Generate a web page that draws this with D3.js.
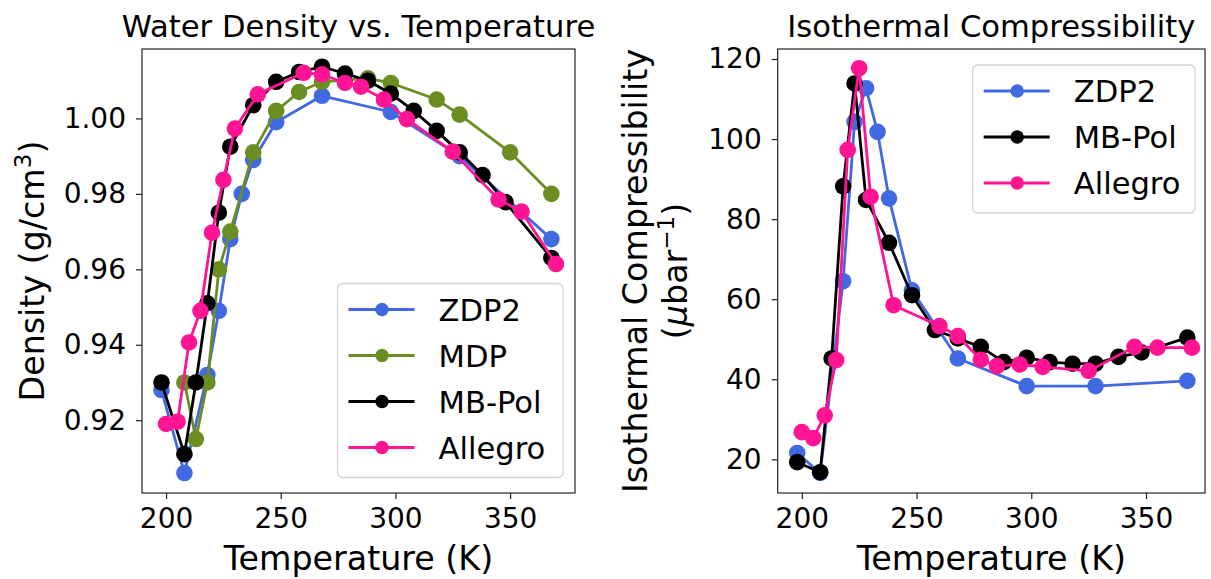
<!DOCTYPE html>
<html>
<head>
<meta charset="utf-8">
<script src="https://cdn.jsdelivr.net/npm/d3@7"></script>
<style>
  body { margin: 0; background: #fff; }
  svg { display: block; font-family: "DejaVu Sans", sans-serif; }
</style>
</head>
<body>
<svg id="chart" width="1211" height="579"></svg>
<script>
// values

// density (g/cm^3)
const zdp2DensT   = [198, 208, 218, 223, 228, 233, 238, 248, 268, 298, 328, 368];
const zdp2Dens    = [0.928, 0.906, 0.932, 0.949, 0.968, 0.980, 0.989, 0.999, 1.006, 1.0017, 0.990, 0.968];
const mdpDensT    = [208, 213, 218, 223, 228, 238, 248, 258, 268, 288, 298, 318, 328, 350, 368];
const mdpDens     = [0.930, 0.915, 0.930, 0.960, 0.970, 0.991, 1.002, 1.007, 1.0097, 1.0106, 1.0094, 1.005, 1.001, 0.991, 0.980];
const mbpolDensT  = [198, 208, 213, 218, 223, 228, 238, 248, 258, 268, 278, 288, 298, 308, 318, 328, 338, 348, 368];
const mbpolDens   = [0.930, 0.911, 0.930, 0.951, 0.975, 0.9925, 1.0035, 1.0097, 1.0123, 1.0137, 1.0119, 1.010, 1.0066, 1.002, 0.9967, 0.991, 0.985, 0.9778, 0.963];
const allegroDensT = [200, 205, 210, 215, 220, 225, 230, 240, 260, 268, 278, 285, 295, 305, 325, 345, 355, 370];
const allegroDens  = [0.919, 0.9196, 0.9406, 0.949, 0.9697, 0.9837, 0.9973, 1.0064, 1.0121, 1.0117, 1.0094, 1.0084, 1.005, 0.9998, 0.9912, 0.9785, 0.9753, 0.9614];

// isothermal compressibility (1/Mbar)
const zdp2CompT    = [198, 208, 218, 223, 228, 233, 238, 248, 268, 298, 328, 368];
const zdp2Comp     = [21.6, 16.6, 64.5, 104.3, 112.7, 101.8, 85.2, 62.2, 45.2, 38.3, 38.3, 39.6];
const mbpolCompT   = [198, 208, 213, 218, 223, 228, 238, 248, 258, 268, 278, 288, 298, 308, 318, 328, 338, 348, 368];
const mbpolComp    = [19.3, 16.8, 45.2, 88.2, 113.9, 84.8, 74.1, 61.0, 52.3, 50.2, 48.1, 44.3, 45.4, 44.3, 43.9, 43.9, 45.6, 46.7, 50.4];
const allegroCompT = [200, 205, 210, 215, 220, 225, 230, 240, 260, 268, 278, 285, 295, 305, 325, 345, 355, 370];
const allegroComp  = [26.8, 25.3, 31.0, 44.8, 97.3, 117.7, 85.6, 58.5, 53.3, 50.8, 44.9, 43.3, 43.7, 43.1, 42.1, 48.1, 47.9, 47.9];

const xTicks = [200, 250, 300, 350];
const densTicks = [0.92, 0.94, 0.96, 0.98, 1.00];
const compTicks = [20, 40, 60, 80, 100, 120];

const colors = { ZDP2: 'royalblue', MDP: 'olivedrab', 'MB-Pol': 'black', Allegro: 'deeppink' };

const toPoints = (t, v) => t.map((d, i) => ({ t: d, v: v[i] }));

const densitySeries = [
    { name: 'ZDP2', pts: toPoints(zdp2DensT, zdp2Dens) },
    { name: 'MDP', pts: toPoints(mdpDensT, mdpDens) },
    { name: 'MB-Pol', pts: toPoints(mbpolDensT, mbpolDens) },
    { name: 'Allegro', pts: toPoints(allegroDensT, allegroDens) }
];
const compSeries = [
    { name: 'ZDP2', pts: toPoints(zdp2CompT, zdp2Comp) },
    { name: 'MB-Pol', pts: toPoints(mbpolCompT, mbpolComp) },
    { name: 'Allegro', pts: toPoints(allegroCompT, allegroComp) }
];

const svg = d3.select('#chart');
const TICK_FONT = 28, LABEL_FONT = 33.3, TITLE_FONT = 30.6, LEGEND_FONT = 30.6;

function drawPanel(p) {
    const x = d3.scaleLinear().domain(p.xDomain).range([p.left, p.right]);
    const y = d3.scaleLinear().domain(p.yDomain).range([p.bottom, p.top]);
    const g = svg.append('g');

    // axes
    const xAxis = g.append('g')
        .attr('transform', `translate(0,${p.bottom})`)
        .call(d3.axisBottom(x).tickValues(xTicks).tickSize(6).tickPadding(9).tickSizeOuter(0));
    const yAxis = g.append('g')
        .attr('transform', `translate(${p.left},0)`)
        .call(d3.axisLeft(y).tickValues(p.yTicks).tickFormat(p.yFormat).tickSize(6).tickPadding(10).tickSizeOuter(0));
    [xAxis, yAxis].forEach(a => {
        a.select('.domain').remove();
        a.selectAll('line').attr('stroke', '#222').attr('stroke-width', 1.2);
        a.selectAll('text').attr('font-size', TICK_FONT).attr('fill', '#000')
            .attr('font-family', '"DejaVu Sans", sans-serif');
    });

    // frame
    g.append('rect')
        .attr('x', p.left).attr('y', p.top)
        .attr('width', p.right - p.left).attr('height', p.bottom - p.top)
        .attr('fill', 'none').attr('stroke', '#222').attr('stroke-width', 1.2);

    // series
    const line = d3.line().x(d => x(d.t)).y(d => y(d.v));
    p.series.forEach(s => {
        const sg = g.append('g');
        sg.append('path').datum(s.pts)
            .attr('d', line).attr('fill', 'none')
            .attr('stroke', colors[s.name]).attr('stroke-width', 2.8)
            .attr('stroke-linejoin', 'round');
        sg.selectAll('circle').data(s.pts).join('circle')
            .attr('cx', d => x(d.t)).attr('cy', d => y(d.v))
            .attr('r', 8.3).attr('fill', colors[s.name]);
    });

    // title
    g.append('text')
        .attr('x', (p.left + p.right) / 2).attr('y', 37)
        .attr('text-anchor', 'middle').attr('font-size', TITLE_FONT)
        .text(p.title);

    // x label
    g.append('text')
        .attr('x', (p.left + p.right) / 2).attr('y', 570)
        .attr('text-anchor', 'middle').attr('font-size', LABEL_FONT)
        .text('Temperature (K)');

    // legend
    const lg = svg.append('g').attr('transform', `translate(${p.legend.x},${p.legend.y})`);
    const rowH = 46;
    lg.append('rect')
        .attr('width', p.legend.w).attr('height', 26 + rowH * (p.series.length - 1) + 30)
        .attr('rx', 5).attr('fill', 'white').attr('fill-opacity', 0.8)
        .attr('stroke', '#d3d3d3').attr('stroke-width', 1.3);
    p.series.forEach((s, i) => {
        const cy = 26 + i * rowH;
        lg.append('line')
            .attr('x1', 11).attr('x2', 77).attr('y1', cy).attr('y2', cy)
            .attr('stroke', colors[s.name]).attr('stroke-width', 2.8);
        lg.append('circle').attr('cx', 44.5).attr('cy', cy).attr('r', 6.7).attr('fill', colors[s.name]);
        lg.append('text')
            .attr('x', 101).attr('y', cy).attr('dy', '0.36em')
            .attr('font-size', LEGEND_FONT).text(s.name);
    });
    return g;
}

drawPanel({
    left: 142, right: 575, top: 49, bottom: 493,
    xDomain: [189.5, 378.3], yDomain: [0.9007, 1.0184],
    yTicks: densTicks, yFormat: d3.format('.2f'),
    series: densitySeries,
    title: 'Water Density vs. Temperature',
    legend: { x: 337.5, y: 283.5, w: 225.5 }
});

drawPanel({
    left: 777.7, right: 1205, top: 49, bottom: 493,
    xDomain: [189.5, 375.7], yDomain: [11.6, 122.5],
    yTicks: compTicks, yFormat: d3.format('d'),
    series: compSeries,
    title: 'Isothermal Compressibility',
    legend: { x: 972.7, y: 65, w: 222.3 }
});

// y labels
const densLabel = svg.append('text')
    .attr('transform', 'translate(44,271) rotate(-90)')
    .attr('text-anchor', 'middle').attr('font-size', LABEL_FONT);
densLabel.append('tspan').text('Density (g/cm');
densLabel.append('tspan').attr('font-size', 23).attr('dy', -13).text('3');
densLabel.append('tspan').attr('dy', 13).text(')');

svg.append('text')
    .attr('transform', 'translate(647,271) rotate(-90)')
    .attr('text-anchor', 'middle').attr('font-size', LABEL_FONT)
    .text('Isothermal Compressibility');
const unitLabel = svg.append('text')
    .attr('transform', 'translate(687,271) rotate(-90)')
    .attr('text-anchor', 'middle').attr('font-size', LABEL_FONT);
unitLabel.append('tspan').text('(');
unitLabel.append('tspan').attr('font-style', 'italic').text('μ');
unitLabel.append('tspan').text('bar');
unitLabel.append('tspan').attr('font-size', 23).attr('dy', -13).text('−1');
unitLabel.append('tspan').attr('dy', 13).text(')');
</script>
</body>
</html>
